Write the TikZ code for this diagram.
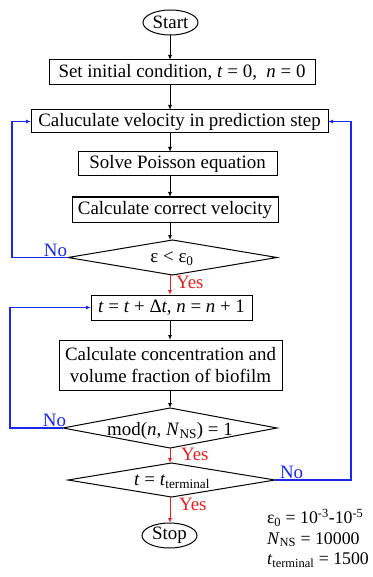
\documentclass[tikz,border=0pt]{standalone}
\usepackage{fontspec}
\setmainfont{Liberation Serif}
\usetikzlibrary{arrows.meta,shapes.geometric}
\definecolor{lblue}{RGB}{25,40,235}
\definecolor{lred}{RGB}{235,30,30}
\begin{document}
\begin{tikzpicture}[x=1pt,y=-1pt,
  every node/.style={font=\fontsize{18.9}{22}\selectfont, inner sep=0pt, outer sep=0pt},
  procbox/.style={draw, line width=1pt, rectangle, align=center},
  term/.style={draw, line width=1pt, ellipse, minimum width=55pt, minimum height=25pt},
  decision/.style={draw, line width=1pt, diamond},
  flow/.style={line width=0.9pt, -{Latex[length=5pt,width=4pt]}},
  yesflow/.style={flow, draw=lred},
  noflow/.style={line width=1.1pt, draw=lblue, -{Latex[length=5pt,width=4pt]}},
  nolabel/.style={text=lblue, inner sep=1pt},
  yeslabel/.style={text=lred, inner sep=1pt}]
\useasboundingbox (0,0) rectangle (372,577);
\coordinate (ax) at (170,0);
\coordinate (l1) at (12,0);
\coordinate (l2) at (10,0);
\coordinate (r1) at (351,0);

\node[term] (start) at (170.5,22.5) {Start};
\node[procbox, minimum width=266pt, minimum height=25pt] (box1) at (182,72.5) {Set initial condition, \textit{t} = 0,~ \textit{n} = 0};
\node[procbox, minimum width=297pt, minimum height=23pt] (box2) at (179.5,121.5) {Caluculate velocity in prediction step};
\node[procbox, minimum width=199pt, minimum height=24pt] (box3) at (177.5,164) {Solve Poisson equation};
\node[procbox, minimum width=206pt, minimum height=25pt] (box4) at (175,209.5) {Calculate correct velocity};
\node[decision, minimum width=209pt, minimum height=35pt] (d1) at (172.5,257.5) {};
\node (d1t) at (172,259) {ε < ε\textsubscript{0}};
\node[procbox, minimum width=161pt, minimum height=25pt] (box5) at (171.5,307.5) {\textit{t} = \textit{t} + Δ\textit{t}, \textit{n} = \textit{n} + 1};
\node[procbox, minimum width=223pt, minimum height=50pt] (box6) at (170.5,365) {Calculate concentration and\\volume fraction of biofilm};
\node[decision, minimum width=214pt, minimum height=40pt] (d2) at (170,428) {};
\node (d2t) at (170,431) {mod(\textit{n}, \textit{N}\textsubscript{NS}) = 1};
\node[decision, minimum width=207pt, minimum height=34pt] (d3) at (171.5,480) {};
\node (d3t) at (172,482) {\textit{t} = \textit{t}\textsubscript{terminal}};
\node[term] (stop) at (169.5,535.5) {Stop};

\node[anchor=north west, align=left, font=\fontsize{17.8}{20.5}\selectfont] (params) at (267,509) {ε\textsubscript{0} = 10\textsuperscript{-3}-10\textsuperscript{-5}\\\textit{N}\textsubscript{NS} = 10000\\\textit{t}\textsubscript{terminal} = 1500};

% main flow
\draw[flow] (start.south -| ax) -- (box1.north -| ax);
\draw[flow] (box1.south -| ax) -- (box2.north -| ax);
\draw[flow] (box2.south -| ax) -- (box3.north -| ax);
\draw[flow] (box3.south -| ax) -- (box4.north -| ax);
\draw[flow] (box4.south -| ax) -- (d1.north -| ax);
\draw[yesflow] (d1.south -| ax) -- (box5.north -| ax);
\draw[flow] (box5.south -| ax) -- (box6.north -| ax);
\draw[flow] (box6.south -| ax) -- (d2.north -| ax);
\draw[yesflow] (d2.south -| ax) -- (d3.north -| ax);
\draw[yesflow] (d3.south -| ax) -- (stop.north -| ax);

% loops
\draw[noflow] (d1.west) -- (d1.west -| l1) |- (box2.west);
\draw[noflow] (d2.west) -- (d2.west -| l2) |- (box5.west);
\draw[noflow] (d3.east) -- (d3.east -| r1) |- (box2.east);

% labels
\node[nolabel, anchor=south east] (no1) at (d1.west) {No};
\node[nolabel, anchor=south east, xshift=4pt] (no2) at (d2.west) {No};
\node[nolabel, anchor=south west, xshift=4pt] (no3) at (d3.east) {No};
\node[yeslabel, anchor=north west, xshift=5pt] (yes1) at (d1.south -| ax) {Yes};
\node[yeslabel, anchor=north west, xshift=10pt, yshift=1pt] (yes2) at (d2.south -| ax) {Yes};
\node[yeslabel, anchor=north west, xshift=8pt] (yes3) at (d3.south -| ax) {Yes};
\end{tikzpicture}
\end{document}
